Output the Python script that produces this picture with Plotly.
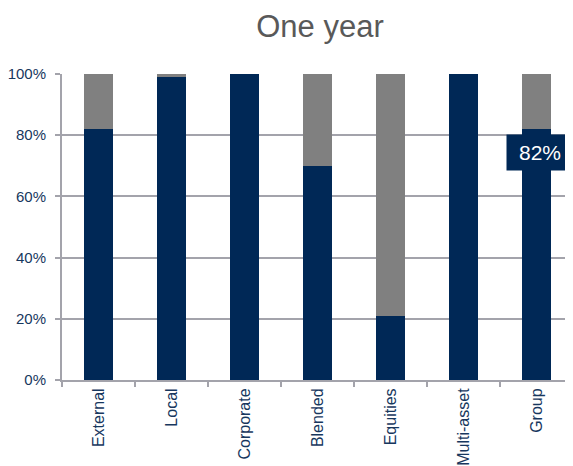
import plotly.graph_objects as go

categories = ["External", "Local", "Corporate", "Blended", "Equities", "Multi-asset", "Group"]
primary = [0.82, 0.99, 1.00, 0.70, 0.21, 1.00, 0.82]
remainder = [0.18, 0.01, 0.00, 0.30, 0.79, 0.00, 0.18]
tick_vals = [0, 0.2, 0.4, 0.6, 0.8, 1.0]
tick_text = ["0%", "20%", "40%", "60%", "80%", "100%"]
label_text = "82%"

navy = "#002856"
grey = "#808080"
axis_grey = "#a3a3ab"
label_blue = "#17375e"

# page has an 8px body margin, so the figure is drawn 8px smaller
W, H = 565, 458

fig = go.Figure()
fig.add_trace(go.Bar(x=categories, y=primary, marker=dict(color=navy, line=dict(width=0)), width=0.4))
fig.add_trace(go.Bar(x=categories, y=remainder, marker=dict(color=grey, line=dict(width=0)), width=0.4))

fig.add_annotation(x=categories[-1], y=primary[-1], xref="x", yref="y",
                   text=label_text, showarrow=False, yanchor="top", yshift=-5, xshift=3,
                   bgcolor=navy, width=64, height=33,
                   font=dict(family="Liberation Sans, Arial", size=21, color="white"))

fig.update_layout(
    barmode="stack",
    width=W, height=H,
    margin=dict(l=54, r=0, t=66, b=81),
    plot_bgcolor="white", paper_bgcolor="white",
    showlegend=False,
    title=dict(text="One year", x=312 / W, xanchor="center", y=1 - 18 / H, yanchor="middle",
               font=dict(family="Liberation Sans, Arial", size=31, color="#595959")),
    font=dict(family="Liberation Sans, Arial"),
)
fig.update_xaxes(type="category", tickangle=-90, showline=True, linecolor=axis_grey, linewidth=2,
                 ticks="outside", tickson="boundaries", ticklen=5, tickcolor=axis_grey, tickwidth=2,
                 tickfont=dict(size=16, color=label_blue), showgrid=False,
                 range=[-0.5, 6.5])
fig.update_yaxes(range=[0, 1.0], tickvals=tick_vals, ticktext=tick_text, showline=True,
                 linecolor=axis_grey, linewidth=2, ticks="outside", ticklen=5, tickcolor=axis_grey,
                 tickwidth=2, gridcolor=axis_grey, gridwidth=2, zeroline=False,
                 ticklabelstandoff=6,
                 tickfont=dict(size=15, color=label_blue))

fig.write_html("out.html")
